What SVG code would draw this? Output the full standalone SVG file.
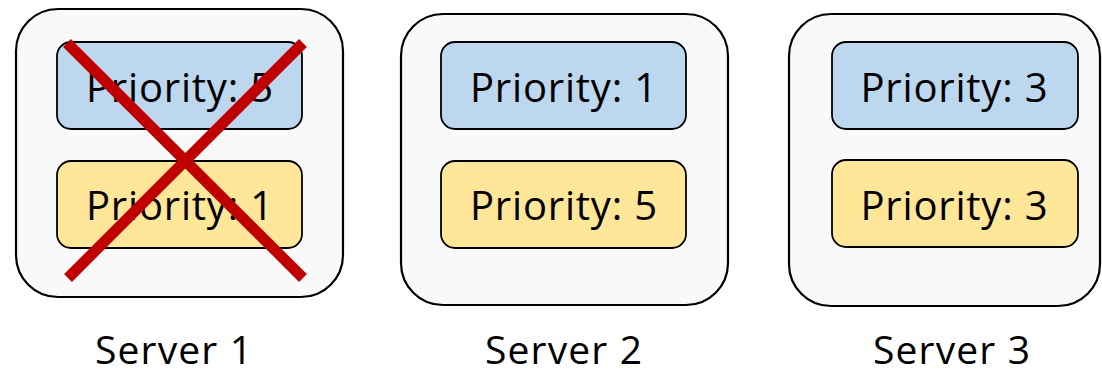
<svg xmlns="http://www.w3.org/2000/svg" width="1102" height="374" viewBox="0 0 1102 374">
<style>
.srv{fill:#F9F9F9;stroke:#000;stroke-width:2.2}
.hi{fill:#BDD7EE;stroke:#000;stroke-width:1.8}
.lo{fill:#FFE699;stroke:#000;stroke-width:1.8}
.t{font-family:"Open Sans","Liberation Sans",sans-serif;font-size:40px;fill:#000;text-anchor:middle}
.lb{font-family:"Open Sans","Liberation Sans",sans-serif;font-size:39px;fill:#000;text-anchor:middle}
.x{stroke:#C00000;stroke-width:11;stroke-linecap:butt}
</style>
<rect width="1102" height="374" fill="#fff"/>
<g id="server1">
<rect class="srv" x="16" y="9" width="327" height="288" rx="42"/>
<rect class="hi" x="57" y="42" width="245" height="87" rx="14"/>
<text class="t" x="179.5" y="102" textLength="187">Priority: 5</text>
<rect class="lo" x="57" y="161" width="245" height="87" rx="14"/>
<text class="t" x="179.5" y="220" textLength="187">Priority: 1</text>
<line class="x" x1="67" y1="43" x2="303" y2="278"/>
<line class="x" x1="303" y1="43" x2="68" y2="278"/>
</g>
<g id="server2">
<rect class="srv" x="401" y="14" width="327" height="291" rx="42"/>
<rect class="hi" x="441" y="42" width="245" height="87" rx="14"/>
<text class="t" x="563.5" y="102" textLength="187">Priority: 1</text>
<rect class="lo" x="441" y="161" width="245" height="87" rx="14"/>
<text class="t" x="563.5" y="220" textLength="187">Priority: 5</text>
</g>
<g id="server3">
<rect class="srv" x="789" y="14" width="311" height="292" rx="42"/>
<rect class="hi" x="832" y="42" width="246" height="87" rx="14"/>
<text class="t" x="954" y="102" textLength="187">Priority: 3</text>
<rect class="lo" x="832" y="160" width="246" height="87" rx="14"/>
<text class="t" x="954" y="220" textLength="187">Priority: 3</text>
</g>
<g id="labels">
<text class="lb" x="173.5" y="364" textLength="157">Server 1</text>
<text class="lb" x="563.5" y="364" textLength="157">Server 2</text>
<text class="lb" x="951.5" y="364" textLength="157">Server 3</text>
</g>
<g id="connectors"></g>
</svg>
